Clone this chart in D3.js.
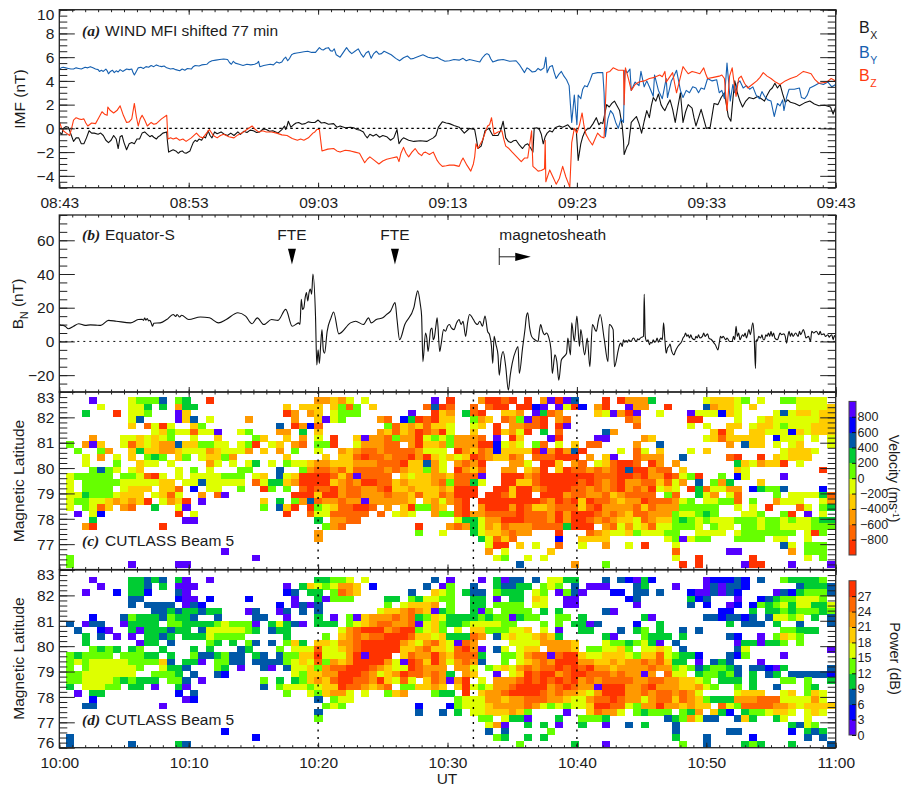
<!DOCTYPE html>
<html><head><meta charset="utf-8">
<script src="https://cdn.jsdelivr.net/npm/d3@7/dist/d3.min.js"></script>
<style>html,body{margin:0;padding:0;background:#fff}svg{display:block}text{font-family:"Liberation Sans",Arial,sans-serif;fill:#1c1c1c}</style>
</head><body><div id="chart"></div>
<script>
// ---- panel (a): [minutes after 08:43, nT]
const bx=[[0,-.3],[.2,-.5],[.3,0],[.5,.15],[.7,.1],[.9,-.5],[1.1,-1.1],[1.3,-.8],[1.5,-.8],[1.7,-1.3],[1.9,-1.3],[2.1,-.8],[2.3,-.2],[2.5,-.4],[2.7,-.4],[3,-.5],[3.2,-.4],[3.4,-.6],[3.6,-1],[3.8,-1.2],[4,-1],[4.2,-.6],[4.4,-.9],[4.55,-1.7],[4.7,-.7],[4.85,-.6],[5,-1.2],[5.2,-1.8],[5.4,-1.3],[5.6,-1.2],[5.8,-1.3],[6,-.9],[6.2,-.9],[6.4,-.4],[6.6,-.3],[6.8,-.5],[7,-.7],[7.15,-.6],[7.3,-.75],[7.5,-.9],[7.65,-.7],[7.8,-.6],[8,-.4],[8.3,-.3],[8.35,-1],[8.45,-2],[8.6,-1.9],[8.8,-1.8],[9,-1.9],[9.2,-2.1],[9.35,-1.95],[9.5,-1.9],[9.65,-2.05],[9.8,-2.1],[10.1,-1.9],[10.2,-1.6],[10.35,-1.2],[10.5,-1],[10.65,-1.1],[10.8,-.9],[11,-1],[11.15,-.7],[11.3,-.8],[11.5,-.2],[11.65,-.6],[11.8,-.8],[12,-.3],[12.2,-.45],[12.5,-.3],[12.75,-.5],[13,-.6],[13.25,-.4],[13.5,-.6],[13.8,-.3],[14,-.5],[14.25,-.25],[14.5,-.35],[14.75,-.15],[15,-.2],[15.25,-.35],[15.5,-.3],[15.75,-.05],[16,-.1],[16.25,-.25],[16.5,-.2],[16.9,-.4],[17,-.3],[17.2,-.1],[17.4,.2],[17.5,-.1],[17.6,.2],[17.7,.6],[17.9,.1],[18.1,.3],[18.3,.45],[18.5,.5],[18.75,.35],[19,.4],[19.25,.55],[19.5,.5],[19.75,.5],[20,.7],[20.25,.45],[20.5,.5],[20.8,.35],[21.2,.4],[21.45,.1],[21.7,.2],[22.1,.05],[22.5,.1],[22.75,.05],[23,-.1],[23.25,-.15],[23.5,-.3],[23.65,-.6],[23.8,-.8],[24,-.5],[24.25,-.65],[24.5,-.5],[24.75,-.75],[25,-.6],[25.3,-.7],[25.6,-1],[25.85,-.8],[26.1,-.1],[26.25,-1.3],[26.45,-.95],[26.6,-.8],[27,-1],[27.4,-1.1],[27.9,-1.05],[28.4,-1.1],[28.65,-.95],[28.9,-.8],[29.1,-.6],[29.3,.1],[29.6,.55],[29.9,.45],[30.15,.4],[30.5,.25],[30.9,.1],[31.1,-.15],[31.3,-.4],[31.5,-.2],[31.7,0],[31.9,-.05],[32.1,-.1],[32.25,-1],[32.35,-1.7],[32.6,-1.5],[32.75,-.9],[32.9,-.2],[33.2,0],[33.35,-.3],[33.5,-.6],[33.9,-.6],[34.1,-.2],[34.3,.6],[34.5,-.8],[34.7,-1.1],[34.9,-1.2],[35.1,-1.05],[35.3,-1],[35.55,-1.4],[35.8,-1.7],[36,-1.4],[36.2,-1.3],[36.45,-1.7],[36.6,-2],[36.7,0],[36.9,.05],[37.1,-.1],[37.25,-.5],[37.4,-1.3],[37.55,-.7],[37.7,-.4],[37.9,-.2],[38.1,-.3],[38.25,-.05],[38.4,.1],[38.65,.2],[38.9,.1],[39.1,.2],[39.3,.3],[39.45,.1],[39.6,-.1],[39.8,-.05],[39.95,-.1],[40.1,-2.7],[40.3,-1.3],[40.45,-.7],[40.6,-.3],[40.8,-.05],[41,0],[41.25,.4],[41.5,.9],[41.7,.3],[41.85,.5],[42,.4],[42.15,1.2],[42.3,2],[42.5,1.8],[42.7,2.1],[42.9,2.3],[43.1,1.9],[43.3,1.5],[43.5,.2],[43.6,-1],[43.65,-2.2],[43.85,-1.6],[44,-1.3],[44.2,.5],[44.4,.75],[44.6,1],[44.8,.4],[45,-.4],[45.2,.6],[45.4,1.5],[45.6,.9],[45.75,1.9],[45.9,2.6],[46.1,2.3],[46.3,2.9],[46.5,2],[46.65,1.7],[46.8,1.5],[47,2],[47.2,2.4],[47.4,1.6],[47.6,.5],[47.8,1.8],[48,3],[48.2,.5],[48.4,1.4],[48.6,2],[48.9,1.7],[49.05,.9],[49.2,.2],[49.4,.9],[49.6,1.6],[49.8,.8],[50,0],[50.3,.1],[50.45,1.1],[50.6,2.1],[50.9,2],[51.15,2.6],[51.4,3],[51.55,2],[51.7,1],[51.9,.6],[52.05,2.4],[52.2,4],[52.4,3],[52.6,2.3],[52.8,1.8],[53.05,2.3],[53.3,2.6],[53.65,2.5],[54,2.7],[54.25,2.5],[54.5,2.3],[54.7,2.8],[54.9,3.2],[55.1,3.4],[55.3,3.8],[55.5,3.4],[55.7,3.7],[55.9,2.9],[56.1,2.2],[56.3,2.4],[56.5,2.2],[56.85,2.1],[57.2,1.9],[57.6,2.15],[58,2.3],[58.35,2.05],[58.7,1.9],[59.15,1.95],[59.6,1.8],[59.8,1.2],[60,1.8]];
const by=[[0,5],[.15,5.1],[.3,5.15],[.5,5.1],[.7,5.05],[.9,5],[1.1,5],[1.3,5.1],[1.5,5.05],[1.7,5],[2,5.15],[2.2,5.1],[2.4,5.2],[2.6,5.1],[2.8,5],[3,4.95],[3.1,4.8],[3.25,4.9],[3.4,4.8],[3.6,5],[3.7,4.85],[3.8,4.6],[3.95,4.8],[4.1,4.9],[4.25,4.7],[4.4,4.85],[4.55,4.75],[4.7,4.95],[4.9,4.8],[5.05,4.9],[5.2,5],[5.4,4.95],[5.6,5],[5.7,4.7],[5.8,4.5],[5.95,4.8],[6.1,5.1],[6.3,5.15],[6.5,5.05],[6.7,5.2],[6.9,5.15],[7.1,5.3],[7.3,5.2],[7.5,5.35],[7.7,5.25],[7.9,5.2],[8.1,5.25],[8.3,5.1],[8.6,5],[8.8,5.05],[9,4.95],[9.3,4.85],[9.5,5],[9.7,4.9],[9.9,5.05],[10.2,5],[10.35,5.2],[10.5,5.3],[10.8,5.25],[11,5.35],[11.4,5.4],[11.6,5.6],[11.8,5.7],[12.1,5.75],[12.4,5.8],[12.7,5.85],[13,5.8],[13.15,5.55],[13.3,5.4],[13.45,5.65],[13.6,5.5],[13.9,5.4],[14.2,5.3],[14.5,5.4],[14.8,5.35],[15.1,5.4],[15.3,5.5],[15.4,5.65],[15.5,5.2],[15.8,5.3],[16.3,5.4],[16.55,5.35],[16.8,5.6],[17,5.5],[17.2,5.6],[17.35,5.85],[17.5,6],[17.65,5.7],[17.8,5.9],[17.95,6.2],[18.1,6.3],[18.35,6.35],[18.6,6.4],[18.9,6.45],[19.2,6.5],[19.5,6.4],[19.8,6.4],[20.1,6.8],[20.25,6.65],[20.4,6.6],[20.6,6.75],[20.8,6.8],[20.95,6.55],[21.1,6.5],[21.25,6.7],[21.4,6.2],[21.7,6],[21.95,6.4],[22.2,6.8],[22.4,6.5],[22.6,6.3],[22.85,6.5],[23.1,6.7],[23.3,6.3],[23.5,6],[23.7,6.35],[23.9,6.5],[24.1,5.9],[24.3,6.3],[24.5,6.5],[24.7,6.25],[24.9,6.3],[25.1,6.5],[25.3,6.4],[25.65,6.2],[26,5.9],[26.3,5.7],[26.6,5.95],[26.9,6.1],[27.15,5.85],[27.4,5.9],[27.75,6.05],[28.1,6.2],[28.5,6],[28.9,5.9],[29.2,6],[29.5,5.8],[29.8,5.65],[30.15,5.7],[30.5,5.8],[30.9,5.75],[31.2,5.9],[31.45,5.7],[31.7,5.8],[32.1,5.7],[32.5,5.6],[32.7,5.95],[32.9,6.2],[33.05,6.3],[33.2,6.2],[33.35,5.85],[33.5,5.6],[33.9,5.75],[34.3,5.8],[34.8,5.65],[35.3,5.7],[35.6,5.3],[35.95,4.7],[36.15,5.1],[36.3,5],[36.55,4.75],[36.8,4.8],[37,5.05],[37.2,4.9],[37.45,5.1],[37.6,6],[37.7,4.7],[37.9,5.2],[38.1,5.3],[38.25,4.7],[38.4,4.2],[38.6,4.55],[38.8,4.8],[39,4.4],[39.2,4.1],[39.4,3.6],[39.5,2],[39.6,.5],[39.8,2.8],[40,.3],[40.1,2.8],[40.3,2.5],[40.45,3.3],[40.6,3.6],[40.8,3.5],[41,4],[41.2,4.6],[41.6,4.7],[42,4.7],[42.1,3],[42.2,-.7],[42.4,.8],[42.6,1.5],[42.8,1.2],[43,.5],[43.2,0],[43.4,.8],[43.6,.5],[43.7,4.9],[43.9,4.7],[44.1,5],[44.2,3.2],[44.5,3.9],[44.8,3.6],[44.95,4.8],[45.2,3.5],[45.4,4],[45.6,3.5],[45.9,2.7],[46,4.5],[46.3,3.2],[46.6,2.5],[46.9,4.2],[47,2.6],[47.3,4],[47.5,4.4],[47.7,4.9],[48,3.2],[48.2,2.6],[48.45,3.2],[48.7,3],[48.95,3.5],[49.2,3.4],[49.4,3],[49.6,3.4],[49.85,3.3],[50.1,4.2],[50.45,4],[50.8,4.1],[51,3],[51.2,3.2],[51.4,2.5],[51.6,5.5],[51.85,2.3],[52.05,3.7],[52.2,3],[52.4,3.8],[52.6,4],[52.85,3.4],[53.1,3.6],[53.35,3.3],[53.6,3.5],[53.85,2.8],[54.1,2.5],[54.3,3.1],[54.5,2.7],[54.75,2.4],[55,2.3],[55.25,1],[55.5,2.1],[55.7,1.9],[55.9,2.4],[56,1.5],[56.2,2.6],[56.4,3.3],[56.8,3.3],[57.2,3.4],[57.35,2.6],[57.6,2.5],[57.8,2.8],[58,3.4],[58.35,3.6],[58.7,3.8],[59.05,3.7],[59.4,3.9],[59.7,3.5],[60,3.7]];
const bz=[[0,.6],[.15,.1],[.3,-.2],[.55,-.4],[.8,-.6],[.95,0],[1.1,.7],[1.3,.9],[1.5,.8],[1.7,.75],[1.9,.8],[2.05,.45],[2.2,.2],[2.5,.45],[2.8,.4],[3.05,.9],[3.3,1.4],[3.5,1.2],[3.7,1.1],[3.75,1.8],[3.95,1.5],[4.2,1.3],[4.45,1.5],[4.7,1.9],[4.95,1.1],[5.2,.5],[5.4,.55],[5.6,.8],[5.8,2.1],[5.95,1],[6.1,.2],[6.25,.8],[6.4,1.1],[6.6,.7],[6.8,.2],[7.1,.5],[7.3,.35],[7.5,.4],[7.9,.8],[8.3,1.1],[8.4,-.9],[8.6,-.8],[8.8,-.9],[9.05,-.8],[9.3,-1],[9.55,-.9],[9.8,-1.1],[10.2,-.8],[10.6,-.4],[10.85,-.7],[11.1,-.8],[11.35,-.45],[11.6,-.1],[11.9,-.6],[12.2,-.8],[12.45,-.6],[12.7,-.5],[13.1,-.7],[13.5,-.8],[13.8,-.55],[14.1,-.4],[14.5,-.1],[14.9,.2],[15.15,-.1],[15.4,-.3],[15.7,-.2],[16,-.3],[16.4,-.3],[16.8,-.4],[17.2,-.55],[17.6,-.6],[18,-.85],[18.4,-1],[18.65,-.9],[18.9,-1],[19.25,-.8],[19.6,-.4],[19.75,-.3],[19.9,-.1],[20.1,-.1],[20.3,-1.9],[20.75,-1.75],[21.2,-1.7],[21.45,-1.9],[21.7,-2],[22.1,-1.85],[22.5,-1.9],[22.85,-2],[23.2,-2.1],[23.4,-2.5],[23.6,-2.9],[23.8,-2.6],[24,-2.4],[24.35,-2.7],[24.7,-3],[25,-2.75],[25.3,-2.6],[25.7,-2.5],[26.1,-2.4],[26.25,-2.8],[26.4,-2.1],[26.6,-1.6],[26.8,-2.1],[27,-2.4],[27.25,-2],[27.5,-1.7],[27.75,-2.1],[28,-2.3],[28.15,-2.05],[28.3,-2],[28.6,-2.2],[28.9,-2],[29.2,-2.7],[29.4,-3],[29.6,-3.2],[29.9,-3.15],[30.15,-3.1],[30.5,-3.1],[30.9,-3.2],[31.05,-2.8],[31.2,-2.5],[31.5,-3.1],[31.8,-3.6],[32,-3],[32.1,-2.4],[32.2,-1.3],[32.35,-1.7],[32.5,-1.4],[32.7,-1],[32.9,-.4],[33.1,.2],[33.25,.3],[33.4,.9],[33.6,-.5],[33.9,-.3],[34.2,-.2],[34.35,-.9],[34.5,-1.5],[34.75,-1.7],[35,-2],[35.35,-2.4],[35.7,-2.8],[35.95,-2.5],[36.2,-2.5],[36.5,-.2],[36.6,-3.2],[36.8,-3.4],[37,-3.6],[37.25,-3.55],[37.5,-3.4],[37.55,-1],[37.6,-4.5],[37.9,-3.5],[38.15,-4.1],[38.4,-4.7],[38.65,-4.2],[38.9,-3.2],[39.15,-4.1],[39.4,-4.8],[39.45,-5],[39.6,-1.2],[39.8,0],[40,-.4],[40.2,.3],[40.4,1.3],[40.55,.2],[40.7,-.5],[40.95,-1],[41.2,-1.4],[41.4,-.9],[41.6,-.4],[41.85,-.7],[42.1,-.8],[42.3,4.7],[42.55,4.8],[42.8,5.1],[43.2,4.9],[43.6,4.9],[43.65,2],[43.75,5.1],[44,4.1],[44.2,3.2],[44.5,3.7],[44.8,3.9],[45.2,4],[45.6,4.2],[46,4.3],[46.4,4.5],[46.6,4.35],[46.8,4.8],[46.9,3.9],[47.15,4.3],[47.4,4.7],[47.55,3.8],[47.7,3],[47.95,4.1],[48.2,5.2],[48.4,4.9],[48.6,4.6],[48.9,4.8],[49.2,4.7],[49.5,4.6],[49.8,5.1],[49.95,4.6],[50.1,4.2],[50.55,4.3],[51,4.4],[51.2,4.5],[51.4,4.2],[51.6,1.5],[51.8,4.4],[52,5.1],[52.15,3.8],[52.3,2.7],[52.5,4.2],[52.7,4.4],[52.95,3.8],[53.2,3.4],[53.55,3.7],[53.9,4],[54.15,4.3],[54.4,4.7],[54.7,4.4],[55,4.2],[55.35,3.9],[55.7,3.7],[56.1,4],[56.5,4.2],[57,4.4],[57.5,4.8],[57.8,4.7],[58.1,4.6],[58.4,4.1],[58.7,3.8],[59,3.85],[59.3,3.9],[59.65,4.2],[60,4]];
// ---- panel (b): [minutes after 10:00, nT]
const bn=[[0,10],[.15,9.5],[.3,9.5],[.45,9],[.7,7.5],[1.1,9],[1.5,10.5],[2,9.5],[2.4,9.8],[2.8,9.7],[3.2,9.5],[3.8,12.5],[4.4,12],[5.5,11],[6.1,13],[6.4,13.2],[6.5,12.5],[6.6,13.8],[6.7,12.6],[6.8,13.6],[6.9,12.2],[7,12.5],[7.1,11],[7.2,9],[7.3,10.8],[7.8,11],[8.3,13],[8.8,16],[9,14.8],[9.1,16],[9.3,14.5],[9.45,15.5],[10,13],[10.9,14.5],[11.6,14],[12.3,11],[12.9,13],[13.8,17],[14.4,15],[14.9,10.5],[15.3,14],[15.8,10],[16.4,13],[16.9,12.5],[17.5,19],[18,9],[18.5,11],[18.6,10],[18.7,25],[18.8,19],[18.9,20],[19,26],[19.1,29],[19.2,24],[19.3,29],[19.4,31],[19.5,28],[19.6,40],[19.8,15],[19.9,-14],[20,-5],[20.1,-13],[20.2,-2],[20.3,7],[20.4,-5],[20.5,-7],[20.7,6],[21,14],[21.2,17.5],[21.6,4.5],[22.5,11],[22.9,12],[23.5,10],[23.9,14],[24.1,11],[24.5,13],[25,14],[25.3,16],[25.6,18],[25.95,23],[26.1,13],[26.3,1],[26.7,10],[27.4,20],[27.55,26],[27.7,30],[27.9,22],[28,15],[28.1,-12],[28.3,5],[28.4,2],[28.5,-6],[28.7,7],[28.8,8],[28.9,1],[29,3],[29.1,9],[29.2,14],[29.4,-6],[29.5,-2],[29.7,7],[29.85,6],[30,9],[30.15,10],[30.3,8],[30.5,7],[30.7,11],[30.9,13],[31.05,10],[31.2,12],[31.4,3],[31.55,11],[31.7,16],[32,13],[32.15,11],[32.3,10],[32.5,12],[32.7,9],[32.9,15],[33.1,6],[33.25,4],[33.4,-3],[33.5,-13],[33.6,3],[33.75,-2],[33.9,-8],[34,-20],[34.15,-10],[34.3,-6],[34.5,-15],[34.7,-29],[34.85,-20],[35,-13],[35.3,-5],[35.45,-3],[35.55,-19],[35.8,-4],[36,8],[36.1,15],[36.2,17],[36.35,8],[36.5,3],[36.75,1],[37,0],[37.1,6],[37.2,10],[37.35,6],[37.5,4],[37.65,5],[37.8,3],[38,-5],[38.1,-19],[38.3,-8],[38.45,-12],[38.6,-23],[38.8,-11],[39,-9],[39.2,-7],[39.3,2],[39.5,-8],[39.6,11],[39.8,0],[40,15],[40.2,-3],[40.3,7],[40.6,-8],[40.8,2],[41,-15],[41.2,10],[41.5,6],[41.65,12],[41.8,16],[42.1,2],[42.4,-12],[42.5,10],[42.8,7],[42.9,-15],[43.2,-5],[43.3,-2],[43.4,-1],[43.5,-3],[43.6,1],[43.7,-.5],[43.8,.5],[43.9,-.5],[44,1],[44.1,.2],[44.2,0],[44.3,1.5],[44.4,2],[44.5,.5],[44.6,0],[44.7,1.5],[44.8,1],[44.9,2],[45,2.5],[45.15,3],[45.2,28],[45.28,3],[45.4,0],[45.5,1],[45.6,-2],[45.7,-.5],[45.8,-1],[45.9,1],[46,-.5],[46.1,0],[46.2,2],[46.3,-.5],[46.4,1],[46.5,2],[46.6,1],[46.7,11],[46.8,1],[46.9,-7],[47,-4],[47.1,-3],[47.2,-1.5],[47.3,-5],[47.5,-8],[47.6,-6],[47.8,-3],[47.9,-2],[48.1,0],[48.2,2],[48.3,3],[48.4,5],[48.5,3],[48.6,4],[48.7,2],[48.8,4],[48.9,2],[49.1,1],[49.2,3],[49.3,2],[49.4,4],[49.5,2],[49.7,3],[49.8,5],[49.9,3],[50.1,4.5],[50.2,2],[50.4,1],[50.6,-1],[50.7,-2],[50.9,-5],[51,-1],[51.1,3],[51.2,2],[51.3,3],[51.5,1],[51.6,2],[51.8,0],[52,0],[52.1,3],[52.2,1],[52.3,9],[52.4,3],[52.5,5],[52.6,1],[52.8,4],[52.9,3],[53,5],[53.1,2],[53.3,7],[53.4,4],[53.6,11],[53.7,3],[53.8,-16],[53.85,1],[53.95,.5],[54.05,3],[54.2,2],[54.3,4],[54.4,1],[54.5,1],[54.6,4],[54.7,3],[54.8,5],[54.9,3],[55,6],[55.1,3],[55.2,5],[55.3,2],[55.5,1],[55.6,3],[55.7,5],[55.8,4],[56,4.5],[56.1,3],[56.2,-1],[56.3,3],[56.4,6],[56.5,3],[56.6,5],[56.7,3],[56.9,5],[57.1,3],[57.2,6],[57.3,4],[57.5,7],[57.6,5],[57.7,2],[57.9,3],[58.05,0],[58.15,6],[58.3,5],[58.5,6],[58.7,4],[58.8,6],[58.9,4],[59.1,4.5],[59.2,3],[59.4,4],[59.5,2.5],[59.6,3.5],[59.7,4],[59.8,1],[59.9,3.5],[60,2]];
const fteTimes=[17.98,25.94];
const sheathTime=34;
const dottedTimes=[20,32,40];
// ---- tick labels
const timeLabelsIMF=["08:43","08:53","09:03","09:13","09:23","09:33","09:43"];
const timeLabelsUT=["10:00","10:10","10:20","10:30","10:40","10:50","11:00"];
const imfTicks=[10,8,6,4,2,0,-2,-4];
const bnTicks=[60,40,20,0,-20];
const latTicksC=[83,82,81,80,79,78,77];
const latTicksD=[83,82,81,80,79,78,77,76];
const velocityTicks=[800,600,400,200,0,-200,-400,-600,-800];
const powerTicks=[27,24,21,18,15,12,9,6,3,0];
const levelColors=["#5500ff","#0000ff","#0058a8","#00cc33","#66ff00","#deff00","#ffcc00","#ff9900","#ff6600","#ff3300"];
// ---- radar cells: one string per range gate, one character per 36 s beam sounding ('.'=no data); digit=colour level
const velocityRows=[
"...0....54 442.43..9. .......... ..77675.5. .......0.9 ...79989.9 .70902...9 .97773.... ..566654.5 ..445555.",
"....5...55 3.3.733... ........6. 666.6484.6 ......8298 ..8.899.99 10.0591.79 ..077..9.. ..27665.6. ....55556",
"..3...9.55 4...06.... ........97 .76.5444.. ....0..967 .389..667. 0387....65 0790..5... 0555165... .52566566",
"........52 ....062.5. ...7.....7 ..6054.... 78.1398966 ..476.8740 89.78..... ..87...... 99....5..5 655555566",
"........6. 8595..64.. .......2.9 718....... .486768665 ..56.9.778 89.90..... ...8...... 5.5..66.56 654555666",
".......... .564558550 ..54...77. 3.6....... 7686798795 ..6..96759 .3.8.....2 7......... ...696..66 555165666",
"...7...556 5654..5..6 ....46..6. 7.5.9..607 7847795454 7778.0.96. ..09....00 ....76.... ..56866666 .1555.5.5",
"4.706..586 5677266445 5.549.56.7 8.449..577 788.796674 777991565. 48.5.6.88. ...7..2... .....7.266 .5.56...5",
".4..47..63 6677655576 5557.6.7.4 ..5..76788 788887555. 9768716666 9079729... .5.85.6... 5.6....... ..56665..",
"..5.7.5.6. 434.64.566 47......6. ...6.66898 8788979656 569876687. 888999.7.6 0..8777..2 .....89..9 .65666...",
"..5...4..6 55.5....75 .5.53.5.45 5677666777 888966275. 7879...775 .996.78.56 8998.97.7. ......3657 669.5....",
"...4245.56 ....5.4.5. ..44...2.. 4788786888 878766475. 9768..77.6 79.6988787 89299788.6 ......65.. .......9.",
"544444.445 895.5.5555 444.56.256 9999868088 88.6566776 8880..9997 8999999988 8998977985 49..4.15.. ..0......",
"5.44444555 5566.55255 555.853367 9999678799 8867666784 8835..9966 8999998987 8977886857 .2.473...6 .........",
"5.4444.566 6.668.1.55 ..4..94.4. 8988978877 8966766676 999..99699 7899988787 897879565. 9385577.13 442....1.",
"5534445666 .5685..7.8 0........9 9969978877 7877686687 999.998699 .999788778 678888.48. .357.58... .4.555538",
"5445567676 9.5769.0.. .....6.3.4 7287787707 77776.6757 89.9999999 9879896988 7677988875 4.55448.4. .7555..57",
"5.4586.78. .3..50.... .....4.269 .945688998 .7.694476. 89.7999798 6678886897 7778687774 4444..5.5. 9...85.43",
".0.51..... ....9.5... ........9. .85588888. 8.565..744 8977888898 8879799987 8768877745 5434...554 ..49.0.5.",
"...3...... .....00... .......... ..3.7788.. .......... 5335779998 8879799878 7665876643 4545554445 445455433",
"..79...... ..9....... .......... ...478.... .....9...7 8735768777 88883999.7 8575685544 45.455.445 445555444",
".......... .......... .......... ..7....... .....4..5. ..35667877 ...9...876 556455544. .5555.5444 4444.594.",
".......... .......... .......... ..7....... .......... ...35868.. ...1..6666 .......540 544...4444 .55..5...",
".......... .......... .......... .......... .......... ....599.6. 5..8..5..7 ..5.9...5. .......... ..25.444.",
".......... .......... 0......... .......... .......... ....7.5... ..6....... ........8. .....00... ...7.444.",
"4......... .......... ....0..... .......... .......... .....54..5 .5........ ........5. .9......9. .....5.4.",
"4.......0. ....00.... .......... .......... .......... ........2. .....7...4 .........9 .9.....099 ...0....0"];
const powerRows=[
"...0....33 232.30..0. .......... ..33445.5. .......2.0 ...0.3022. 2.5533...2 .21031.... ..011121.2 ..433334.",
"....0...33 2.3.000... ........0. 36545776.1 ......2.04 ..2..32233 .454.2.000 ...23...0. ..020221.. ....23332",
"..0...1.33 1...20.... ........12 .33.4876.. ....2..654 .322.4333. 54.0420... 11.22.2... 1002021... .02134442",
"........22 ....100.1. ...1.....0 ..30444... .33.435544 ..33.0.33. 65..00.... ..12...... 312...0..1 23445554.",
"........2. 2222.021.. .......1.0 202....... .4.56667.4 ..33.4444. 55..00.... ...0...... 2.1..01.14 345355335",
".......... .223233233 ...02..02. 2.2....... 5667876034 ..304.4444 .3.3.....2 0......... ....11..3. 334344434",
"...1...243 3324332..2 ....22..0. ..3.0.4067 7787834653 3334344034 4..44.3... ....30.... ..2212212. 25545.3.2",
"2.022..033 33.4433334 54440.3532 0.333.4567 8877805643 34555544.. .4.4.3302. ...1..3... .....3.222 .3..2...2",
".2..10..30 333233.255 55543.233. .....57899 978994564. 5.66444556 .5.0..33.. .2.34.3..2 .2........ ..44333..",
"..3.2.0.0. 3323.33354 444.....3. ...4.67878 8999866563 3387.25655 6763.....3 0...4333.3 .....21..0 .4654....",
"..3......0 33.2....43 .3.42.2.46 3.66577899 9997657865 087....555 577776...5 4434530.2. ......0330 334.4....",
"...4343.34 ..3...3.3. ..23...4.5 5585567899 9996678665 8970.25.56 6.7776.445 564.5565.2 ......25.. ........0",
"434444.444 33.3..4223 422.32.244 6695557909 99.6877976 8883..4457 8808996556 6654668543 31...214.. ..0......",
"4545555544 4462.330.4 422.222245 6584767999 9750986975 7872..4.56 7879997766 7677878633 .0.232...0 .........",
"4.45555554 ..5332...4 3.0..20.25 5647889998 765598777. 775.456578 7889898977 6777787745 4234432.22 103.....2",
"445555555. .4443.2..2 1........5 4667799987 5679887873 .76..0.569 8997899888 787707.855 .344342.3. 23.222221",
"4455554343 33.442.0.. .....4.3.3 4676899887 96585.6870 79.5.77789 8989897878 8887788776 654.333.3. ..44.4..3",
"3.55544.33 .0..30.... .....2.455 5456698876 78.446676. 6954577899 9978987709 9977897776 6754..4.3. .2...43..",
".0.33..... ....1.2... ........4. .546775.5. .467...433 .9.6778999 9878776579 9977878878 75....5666 ..56.465.",
"...1...... .....01... .......... ..2.455... .......... 4555776778 8877655788 9877578868 7643337778 88555575.",
"..22...... ..0....... .......... ...454.... .....1...1 4555677778 7545455699 8854779776 766.854888 877656666",
".......... .......... .......... ..2....... .....2..2. 3.55666764 ....0..687 75.43444.4 37.631.344 5665.565.",
".......... .......... .......... ..4....... .......... ...44.5330 ...3..4443 .......234 7522..263. .35..5...",
".......... .......... .......... .......... .......... ....570..3 .3.0..3..0 ..2.3...2. .......... ...3254..",
".......... .......... 1......... .......... .......... ....2.2... ..4....... ........2. .....22... ...1.323.",
"2......... .......... ....1..... .......... .......... .....43..3 .3........ ........3. ..2.....1. .....2.2.",
"2.......2. ....32.... .......... .......... .......... ........4. .....3...0 .........4 ..2....343 ...3....2"];
const firstSounding=0.52, soundingStep=0.6, gateStep=0.2484;

// ---- layout
const W=903,H=787,L=59.3,R=835.7,FS=15.5;
const svg=d3.select("#chart").append("svg").attr("width",W).attr("height",H).attr("viewBox",[0,0,W,H]);
const x=d3.scaleLinear().domain([0,60]).range([L,R]);
const yA=d3.scaleLinear().domain([-5,10]).range([187.7,9.7]);
const yB=d3.scaleLinear().domain([-30,75]).range([392,215]);
const yC=d3.scaleLinear().domain([76,83]).range([569.5,392]);
const yD=d3.scaleLinear().domain([76,83]).range([747.7,570]);
const colorV=d3.scaleQuantize().domain([-1000,1000]).range(levelColors.slice().reverse());
const colorP=d3.scaleQuantize().domain([0,30]).range(levelColors);
const levelToV=c=>1000-200*(c+.5), levelToP=c=>3*(c+.5);

function parseRows(rows){
  const cells=[];
  rows.forEach((row,r)=>{
    row.split(" ").map(g=>g.padEnd(10,".").slice(0,10)).join("").split("").forEach((ch,k)=>{
      if(ch!=="."&&k<99)cells.push({r,k,c:+ch});
    });
  });
  return cells;
}
function drawCells(cells,y,topLat,toVal,color){
  svg.append("g").attr("shape-rendering","crispEdges").selectAll("rect").data(cells).join("rect")
    .attr("x",d=>x(firstSounding+soundingStep*d.k))
    .attr("width",d=>x(firstSounding+soundingStep*(d.k+1))-x(firstSounding+soundingStep*d.k)+.3)
    .attr("y",d=>y(topLat-gateStep*d.r))
    .attr("height",d=>y(topLat-gateStep*(d.r+1))-y(topLat-gateStep*d.r)+.3)
    .attr("fill",d=>color(toVal(d.c)));
}
drawCells(parseRows(velocityRows),yC,82.79,levelToV,colorV);
drawCells(parseRows(powerRows),yD,82.74,levelToP,colorP);

// ---- zero lines
svg.append("line").attr("x1",L).attr("x2",R).attr("y1",yA(0)).attr("y2",yA(0)).attr("stroke","#000").attr("stroke-width",1.3).attr("stroke-dasharray","2.5 3");
svg.append("line").attr("x1",L).attr("x2",R).attr("y1",yB(0)).attr("y2",yB(0)).attr("stroke","#111").attr("stroke-width",1).attr("stroke-dasharray","2 4");

// ---- lines
const defs=svg.append("defs");
defs.append("clipPath").attr("id","cA").append("rect").attr("x",L).attr("y",9.7).attr("width",R-L).attr("height",178);
defs.append("clipPath").attr("id","cB").append("rect").attr("x",L).attr("y",215).attr("width",R-L).attr("height",177);
function drawLine(data,y,color,clip,w,curve){
  svg.append("path").datum(data).attr("clip-path",`url(#${clip})`).attr("fill","none").attr("stroke",color).attr("stroke-width",w).attr("stroke-linejoin","round")
   .attr("d",d3.line().curve(curve||d3.curveLinear).x(d=>x(d[0])).y(d=>y(d[1])));
}
drawLine(bx,yA,"#111","cA",1.1);
drawLine(by,yA,"#1660b0","cA",1.1);
drawLine(bz,yA,"#ff3a10","cA",1.1);
drawLine(bn,yB,"#111","cB",1.1,d3.curveMonotoneX);

// ---- dotted verticals
dottedTimes.forEach(t=>svg.append("line").attr("x1",x(t)).attr("x2",x(t)).attr("y1",392).attr("y2",751).attr("stroke","#000").attr("stroke-width",1.4).attr("stroke-dasharray","2 5.5"));

// ---- axes
const minorX=d3.range(0,61), majorX=d3.range(0,61,10);
function frame(y,top,bottom,majorY,minorY,xLabels,shift){
  const g=svg.append("g");
  const ax=(gen,tx,ty)=>{const a=g.append("g").attr("transform",`translate(${tx},${ty})`).call(gen);a.select(".domain").remove();a.selectAll("line").attr("stroke","#222").attr("stroke-width",1);a.selectAll("text").attr("font-size",FS).attr("fill","#1c1c1c").attr("font-family","Liberation Sans");return a;};
  ax(d3.axisBottom(x).tickValues(minorX).tickSize(-2.5).tickFormat(""),0,bottom);
  ax(d3.axisTop(x).tickValues(minorX).tickSize(-2.5).tickFormat(""),0,top);
  ax(d3.axisTop(x).tickValues(majorX).tickSize(-5).tickFormat(""),0,top);
  ax(d3.axisBottom(x).tickValues(majorX).tickSize(-5).tickPadding(9).tickFormat((d,i)=>xLabels?xLabels[i]:""),0,bottom);
  ax(d3.axisLeft(y).tickValues(minorY).tickSize(-8).tickFormat(""),L,0);
  ax(d3.axisRight(y).tickValues(minorY).tickSize(-8).tickFormat(""),R,0);
  ax(d3.axisRight(y).tickValues(majorY).tickSize(-15.5).tickFormat(""),R,0);
  const lt=ax(d3.axisLeft(y).tickValues(majorY).tickSize(-15.5).tickPadding(5).tickFormat(d3.format("d")),L,0);
  lt.selectAll("text").attr("transform",d=>`translate(0,${shift[d]||0})`).attr("dy","0.34em");
  g.append("rect").attr("x",L).attr("y",top).attr("width",R-L).attr("height",bottom-top).attr("fill","none").attr("stroke","#222").attr("stroke-width",1.3);
}
frame(yA,9.7,187.7,imfTicks,d3.range(-5,10.01,.5),timeLabelsIMF,{10:4.6});
frame(yB,215,392,bnTicks,d3.range(-30,75.01,5),null,{});
frame(yC,392,569.5,latTicksC,d3.range(76,83.01,.2),null,{83:5.2});
frame(yD,570,747.7,latTicksD,d3.range(76,83.01,.2),timeLabelsUT,{83:4,76:-5});

// ---- text
function rotLabel(t,tx,ty,rot,size){return svg.append("text").attr("transform",`translate(${tx},${ty}) rotate(${rot})`).attr("text-anchor","middle").attr("font-size",size||FS).text(t);}
rotLabel("IMF (nT)",25,99,-90);
const bnl=rotLabel("",23,304,-90);
bnl.append("tspan").text("B");bnl.append("tspan").attr("font-size",10.5).attr("dy",4.5).text("N");bnl.append("tspan").attr("dy",-4.5).text(" (nT)");
rotLabel("Magnetic Latitude",24,481,-90);
rotLabel("Magnetic Latitude",24,658.5,-90);
svg.append("text").attr("x",447).attr("y",783.5).attr("text-anchor","middle").attr("font-size",FS).text("UT");

function title(tag,txt,y){
  svg.append("text").attr("x",82).attr("y",y).attr("font-size",FS).attr("font-weight","bold").attr("font-style","italic").style("font-family","'Liberation Serif',serif").text(tag);
  svg.append("text").attr("x",105).attr("y",y).attr("font-size",FS).text(txt);
}
title("(a)","WIND MFI shifted 77 min",36);
title("(b)","Equator-S",240);
title("(c)","CUTLASS Beam 5",546);
title("(d)","CUTLASS Beam 5",725);

// legend
[["B","X","#1c1c1c",33],["B","Y","#1660b0",58],["B","Z","#ff3a10",81]].forEach(l=>{
  const t=svg.append("text").attr("x",859).attr("y",l[3]).attr("font-size",FS+.5).style("fill",l[2]);
  t.append("tspan").text(l[0]);t.append("tspan").attr("font-size",10.5).attr("dy",5.5).attr("dx",.5).text(l[1]);
});

// FTE + arrows
fteTimes.forEach(t=>{
  svg.append("text").attr("x",x(t)).attr("y",240).attr("text-anchor","middle").attr("font-size",FS).text("FTE");
  svg.append("path").attr("transform",`translate(${x(t)},0)`).attr("d","M-4,248.7L4,248.7L0,264.5Z").attr("fill","#000");
});
svg.append("text").attr("x",x(sheathTime)).attr("y",240).attr("font-size",FS).text("magnetosheath");
const sx=x(sheathTime);
svg.append("path").attr("transform",`translate(${sx},0)`).attr("d","M0,248V265M0,256.8H16").attr("stroke","#222").attr("fill","none").attr("stroke-width",1);
svg.append("path").attr("transform",`translate(${sx},0)`).attr("d","M16,252.7L31.5,256.8L16,261Z").attr("fill","#000");

// ---- colour bars
function colorBar(domain,color,ticks,top,bottom,neg){
  const s=d3.scaleLinear().domain(domain).range([bottom,top]);
  const n=levelColors.length, step=(domain[1]-domain[0])/n;
  const g=svg.append("g");
  g.append("g").attr("shape-rendering","crispEdges").selectAll("rect").data(d3.range(n)).join("rect")
    .attr("x",849).attr("width",7).attr("y",i=>s(domain[0]+step*(i+1))).attr("height",i=>s(domain[0]+step*i)-s(domain[0]+step*(i+1))+.4)
    .attr("fill",i=>color(domain[0]+step*(i+.5)));
  g.append("rect").attr("x",849).attr("width",7).attr("y",top).attr("height",bottom-top).attr("fill","none").attr("stroke","#444").attr("stroke-width",1);
  const a=g.append("g").attr("transform","translate(856,0)").call(d3.axisRight(s).tickValues(ticks).tickSize(-4).tickPadding(2).tickFormat(d3.format("d")));
  a.select(".domain").remove();
  a.selectAll("line").attr("stroke","#111");
  a.selectAll("text").attr("font-size",12.5).attr("font-family","Liberation Sans").attr("fill","#1c1c1c").attr("x",d=>d<0&&neg?4:1.5);
}
colorBar([-1000,1000],colorV,velocityTicks,401.4,555,true);
colorBar([0,30],colorP,powerTicks,580.7,735,false);
const vl=rotLabel("",889,478.5,90,14);
vl.append("tspan").text("Velocity (ms");vl.append("tspan").attr("font-size",8.5).attr("dy",-3.5).text("-1");vl.append("tspan").attr("dy",3.5).text(")");
rotLabel("Power (dB)",889.5,658.5,90,14.5);
</script></body></html>
